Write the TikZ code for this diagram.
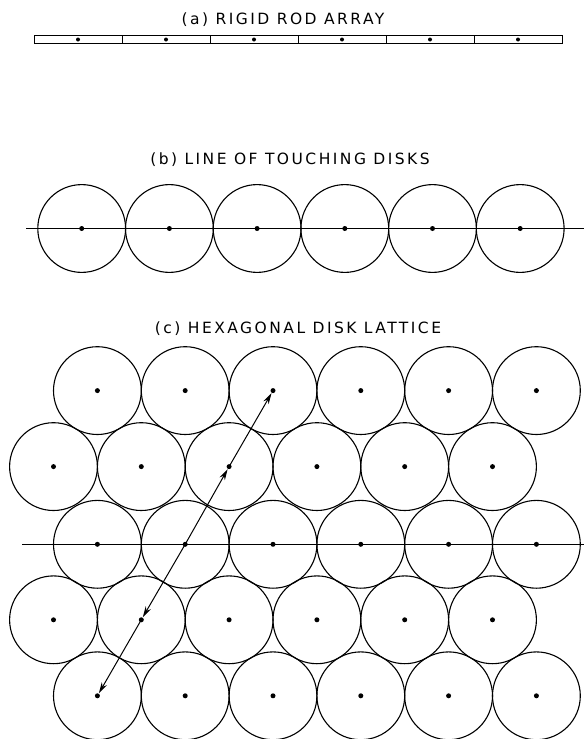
\documentclass[tikz,border=0pt]{standalone}
\usepackage{fontspec}
\usetikzlibrary{arrows.meta}
\newfontfamily\labfont[LetterSpace=16]{DejaVu Sans}
\begin{document}
\begin{tikzpicture}[x=1pt,y=-1pt,
  line width=1.1pt,
  disk/.style={circle,draw,minimum size=87.8pt,inner sep=0pt},
  dotn/.style={circle,fill,inner sep=0pt,minimum size=5pt},
  rod/.style={draw,rectangle,minimum width=88pt,minimum height=7.5pt,inner sep=0pt,line width=1pt},
  ttl/.style={font=\labfont\fontsize{15.5}{17}\selectfont,inner sep=0pt},
  arr/.style={-{Stealth[length=11pt,width=6pt]},shorten >=3pt,line width=1pt}]
\useasboundingbox (0,0) rectangle (584,739);
% (a)
\node[ttl] (ta) at (283,20) {(a) RIGID ROD ARRAY};
\foreach \i in {0,...,5}{
  \node[rod] (r\i) at ({78+88*\i},39.5) {};
  \node[dotn,minimum size=4pt] (rd\i) at ({78+88*\i},39.5) {};
}
% (b)
\node[ttl] (tb) at (290,160) {(b) LINE OF TOUCHING DISKS};
\coordinate (bl) at (26,228.5);
\coordinate (br) at (584,228.5);
\draw (bl) -- (br);
\foreach \i in {0,...,5}{
  \node[disk] (b\i) at ({81.7+87.7*\i},228.5) {};
  \node[dotn] (bd\i) at ({81.7+87.7*\i},228.5) {};
}
% (c)
\node[ttl] (tc) at (298,329) {(c) HEXAGONAL DISK LATTICE};
\coordinate (cl) at (22,544.3);
\coordinate (cr) at (584,544.3);
\draw (cl) -- (cr);
\foreach \r/\y/\x in {1/390.6/97.4,2/466.6/53.5,3/544.3/97.4,4/619.8/53.5,5/695.8/97.4}{
  \foreach \i in {0,...,5}{
    \node[disk] (c\r\i) at ({\x+87.8*\i},\y) {};
    \node[dotn] (d\r\i) at ({\x+87.8*\i},\y) {};
  }
}
\draw[arr] (d31.center) -- (d22.center);
\draw[arr] (d22.center) -- (d12.center);
\draw[arr] (d31.center) -- (d41.center);
\draw[arr] (d41.center) -- (d50.center);
\end{tikzpicture}
\end{document}
